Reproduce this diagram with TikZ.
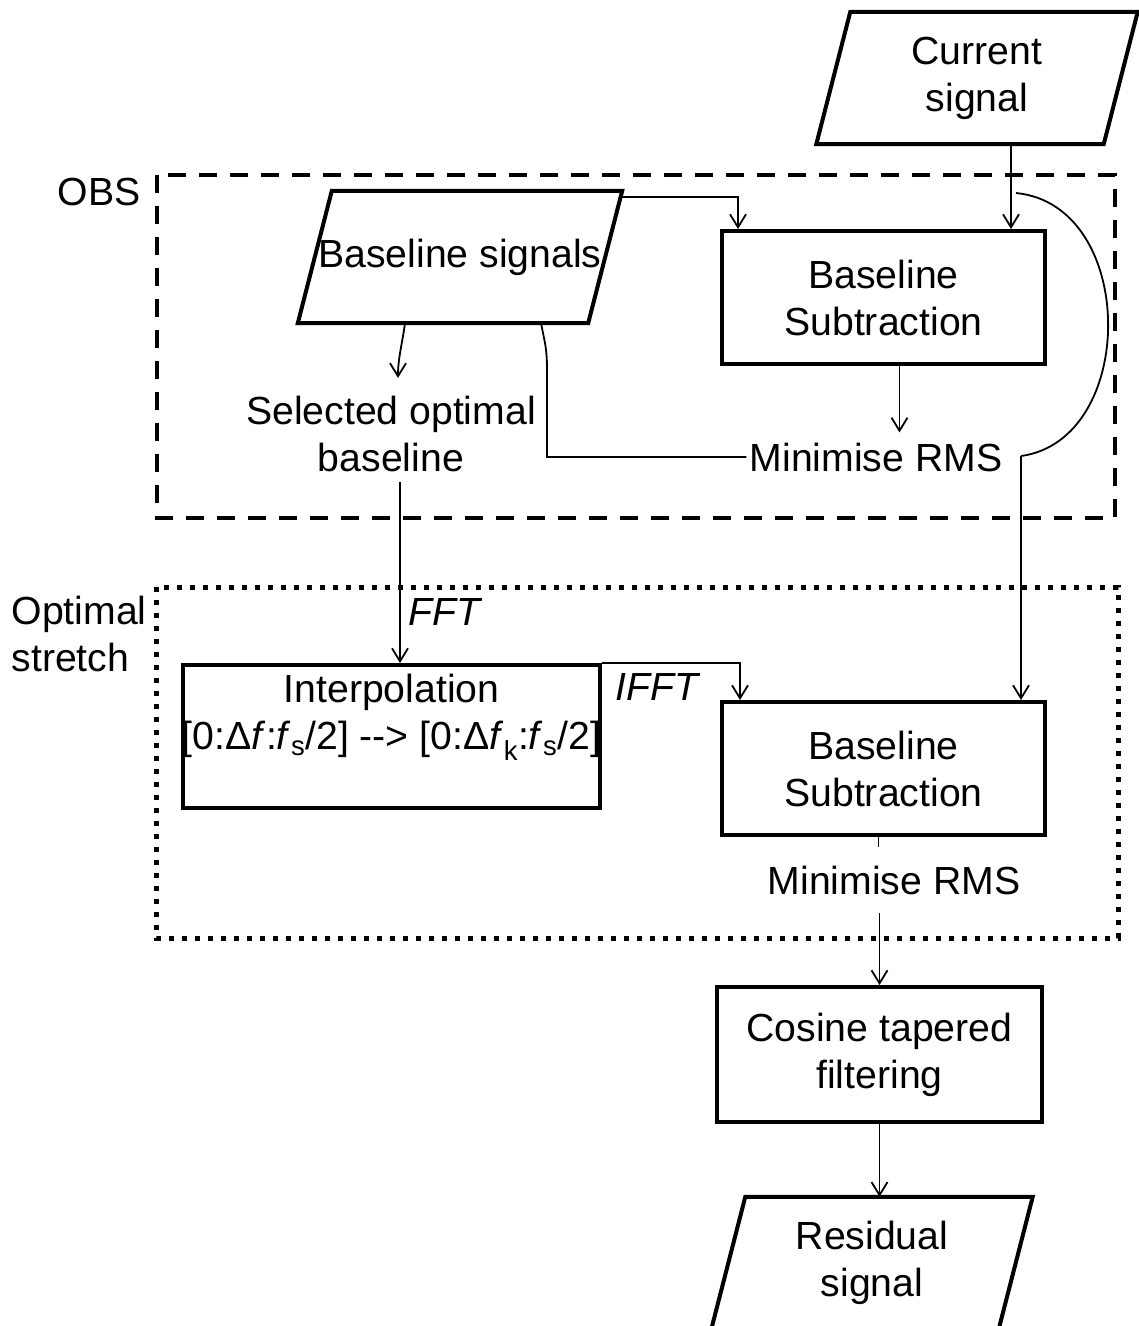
\documentclass[tikz,border=0pt]{standalone}
\usepackage{fontspec}
\setmainfont{Liberation Sans}
\usetikzlibrary{arrows.meta}

\newcommand{\ioshape}[1]{%
    \draw[line width=4pt] ([xshift=17pt]#1.north west) -- ([xshift=17pt]#1.north east)
        -- ([xshift=-17pt]#1.south east) -- ([xshift=-17pt]#1.south west) -- cycle;}

\begin{document}
\begin{tikzpicture}[x=1pt,y=-1pt,
                    font=\fontsize{39.2}{47}\selectfont,
                    boxND/.style={draw,
                                  line width=4pt,
                                  minimum width=323pt,
                                  minimum height=133pt,
                                  align=center},
                    ioND/.style={minimum width=287pt,
                                 minimum height=132pt,
                                 inner sep=0pt,
                                 align=center},
                    txtND/.style={inner xsep=3pt,
                                  inner ysep=10pt,
                                  align=center},
                    conn/.style={line width=1.8pt},
                    >={Straight Barb[length=13pt,width=16pt]}]
            \useasboundingbox (0,0) rectangle (1139,1326);
            \draw[line width=4pt, dash pattern=on 18pt off 13pt] (157,175) rectangle (1115,518);
            \draw[line width=5pt, dash pattern=on 5pt off 8pt]   (156,587) rectangle (1118,938);
            \node[ioND](cur)  at (977,78)      {Current\\signal};
            \node[ioND, minimum width=290pt](bsig) at (460,257) {Baseline signals};
            \node[boxND](bs1) at (883.5,297.5) {Baseline\\Subtraction};
            \node[txtND](sel) at (391,434)     {Selected optimal\\baseline};
            \node[txtND](rms1) at (876,457)    {Minimise RMS};
            \node[anchor=east](obs) at (144,192) {OBS};
            \node[anchor=west, align=left](ost) at (8,634) {Optimal\\stretch};
            \node[boxND, minimum width=417pt, minimum height=143pt](interp) at (391.5,736.5) {};
            \node[anchor=north, inner ysep=11pt, align=center](interpTxt) at (interp.north)
                {Interpolation\\{}[0:Δ\textit{f}:\textit{f}\textsubscript{s}/2] -{}-{}> [0:Δ\textit{f}\textsubscript{k}:\textit{f}\textsubscript{s}/2]};
            \node(ifft) at (658,687) {\textit{IFFT}};
            \node[boxND](bs2) at (883.5,768.5) {Baseline\\Subtraction};
            \node[txtND, inner ysep=18pt](rms2) at (894,880) {Minimise RMS};
            \node[boxND, minimum width=325pt, minimum height=135pt](cos) at (879.5,1054.5) {Cosine tapered\\filtering};
            \node[ioND](res)  at (872,1263)    {Residual\\signal};
            \ioshape{cur}
            \ioshape{bsig}
            \ioshape{res}
            \coordinate (jA) at (1011,193);
            \coordinate (jB) at (1021,456);
            \draw[conn,->] (jA |- cur.south) -- (jA |- bs1.north);
            \draw[conn] ([xshift=5pt]jA) .. controls (1138,205) and (1138,440) .. (jB);
            \draw[conn,->] (jB) -- (jB |- bs2.north);
            \draw[conn,->] ([xshift=17pt,yshift=-6pt]bsig.north east) -| ([xshift=18pt]bs1.north west);
            \draw[conn,->] ([xshift=-55pt]bsig.south) .. controls +(-3,22) and +(0,-20) .. ([xshift=7pt,yshift=8pt]sel.north);
            \draw[conn] ([xshift=81pt]bsig.south) .. controls +(4,20) and +(0,-20) .. ++(6,46) |- (rms1.west);
            \draw[conn,->] ([xshift=16pt]bs1.south) -- ([xshift=16pt]bs1.south |- rms1.north);
            \draw[conn,->] ([xshift=9pt]sel.south) -- ([xshift=9pt]sel.south |- interp.north)
                node[pos=0.72, right, inner xsep=8pt](fft) {\textit{FFT}};
            \draw[conn,->] (interp.north east) -| ([xshift=20pt]bs2.north west);
            \draw[conn] ([xshift=-5pt]bs2.south) -- ([xshift=-5pt]bs2.south |- rms2.north);
            \draw[conn,->] (rms2.south -| cos.north) -- (cos.north);
            \draw[conn,->] (cos.south) -- (cos.south |- res.north);
        \end{tikzpicture}
\end{document}
